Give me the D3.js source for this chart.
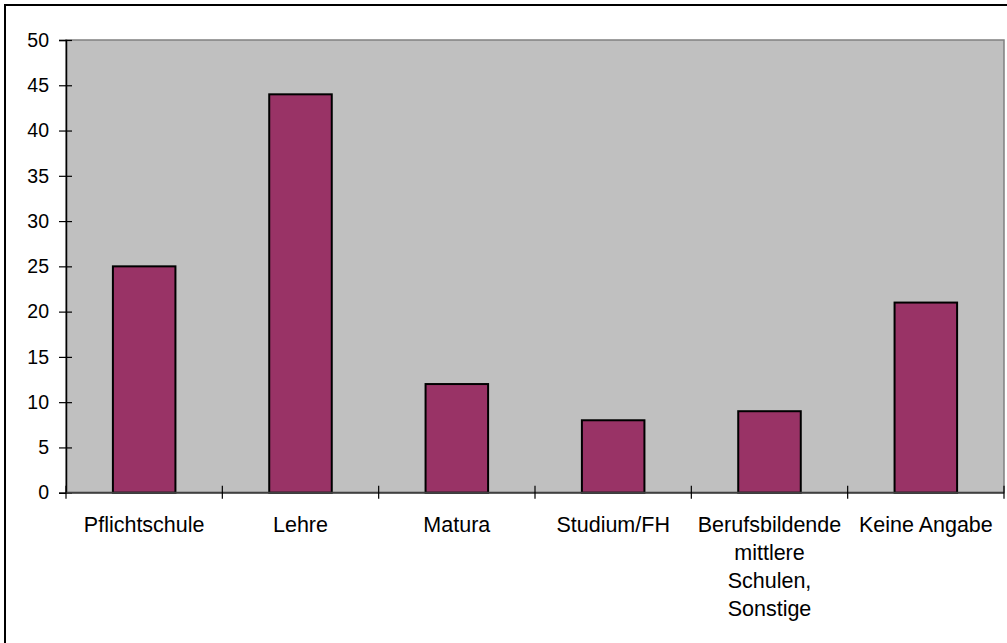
<!DOCTYPE html>
<html>
<head>
<meta charset="utf-8">
<script src="https://cdn.jsdelivr.net/npm/d3@7"></script>
<style>
  html, body { margin: 0; padding: 0; background: #ffffff; overflow: hidden; }
  svg { display: block; }
  text { font-family: "Liberation Sans", Arial, sans-serif; fill: #000; }
</style>
</head>
<body>
<svg id="chart" width="1007" height="643"></svg>
<script>
// Highest completed education level (counts per category)
const categories = [
  "Pflichtschule",
  "Lehre",
  "Matura",
  "Studium/FH",
  "Berufsbildende mittlere Schulen, Sonstige",
  "Keine Angabe"
];
const values = [25, 44, 12, 8, 9, 21];
const yTicks = [0, 5, 10, 15, 20, 25, 30, 35, 40, 45, 50];

const plot = { left: 66, top: 40, right: 1004, bottom: 492.7 };

const svg = d3.select("#chart");

// outer chart frame (runs past the bottom/right edge of the view)
svg.append("rect")
  .attr("x", 5).attr("y", 5)
  .attr("width", 1200).attr("height", 800)
  .attr("fill", "#ffffff")
  .attr("stroke", "#000").attr("stroke-width", 2);

const x = d3.scaleBand()
  .domain(categories)
  .range([plot.left, plot.right])
  .paddingInner(0.6)
  .paddingOuter(0.3);

const y = d3.scaleLinear()
  .domain([0, 50])
  .range([plot.bottom, plot.top]);

// plot area background + border
svg.append("rect")
  .attr("x", plot.left).attr("y", plot.top)
  .attr("width", plot.right - plot.left)
  .attr("height", plot.bottom - plot.top)
  .attr("fill", "#c0c0c0")
  .attr("stroke", "#808080").attr("stroke-width", 1.5);

// bars
svg.append("g").selectAll("rect")
  .data(values)
  .join("rect")
  .attr("x", (d, i) => x(categories[i]))
  .attr("y", d => y(d))
  .attr("width", x.bandwidth())
  .attr("height", d => y(0) - y(d))
  .attr("fill", "#993366")
  .attr("stroke", "#000").attr("stroke-width", 2);

// y axis with ticks crossing the axis line
const yAxis = svg.append("g")
  .attr("transform", `translate(${plot.left},0)`)
  .call(d3.axisLeft(y).tickValues(yTicks).tickSize(7).tickPadding(10).tickFormat(d3.format("d")));
yAxis.select(".domain").attr("stroke", "#000").attr("stroke-width", 1.5);
yAxis.selectAll(".tick line").attr("x2", 6).attr("x1", -7).attr("stroke", "#000").attr("stroke-width", 1.2);
yAxis.selectAll(".tick text")
  .attr("x", -17)
  .style("font-size", "19.5px")
  .style("font-family", "'Liberation Sans', Arial, sans-serif")
  .attr("fill", "#000");

// x axis: category boundaries as tick marks
const step = x.step();
const bounds = d3.range(categories.length + 1).map(i => plot.left + i * step);
const xg = svg.append("g");
xg.append("line")
  .attr("x1", plot.left).attr("x2", plot.right)
  .attr("y1", y(0)).attr("y2", y(0))
  .attr("stroke", "#404040").attr("stroke-width", 2);
xg.selectAll("line.tick")
  .data(bounds)
  .join("line")
  .attr("class", "tick")
  .attr("x1", d => d).attr("x2", d => d)
  .attr("y1", y(0) - 7).attr("y2", y(0) + 6)
  .attr("stroke", "#000").attr("stroke-width", 1.2);

// category labels, wrapped to the category width
const labelSize = 21.5, lineH = 28, maxW = 148;
const labels = svg.append("g")
  .attr("font-size", labelSize + "px")
  .attr("text-anchor", "middle");

categories.forEach(cat => {
  const cx = x(cat) + x.bandwidth() / 2;
  const t = labels.append("text")
    .attr("x", cx)
    .attr("y", plot.bottom + 39);
  const words = cat.split(" ");
  let line = [];
  let ts = t.append("tspan").attr("x", cx).attr("dy", 0);
  words.forEach(w => {
    line.push(w);
    ts.text(line.join(" "));
    if (ts.node().getComputedTextLength() > maxW && line.length > 1) {
      line.pop();
      ts.text(line.join(" "));
      line = [w];
      ts = t.append("tspan")
        .attr("x", cx)
        .attr("dy", lineH)
        .text(w);
    }
  });
});
</script>
</body>
</html>
